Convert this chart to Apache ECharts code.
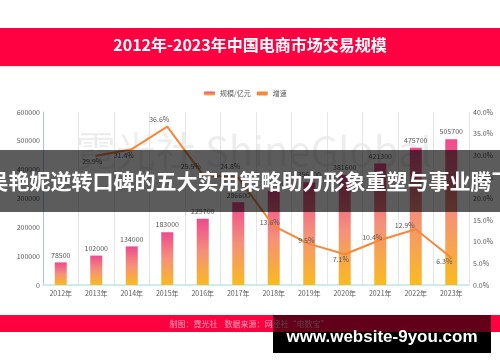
<!DOCTYPE html>
<html><head><meta charset="utf-8">
<script src="https://cdn.jsdelivr.net/npm/echarts@6/dist/echarts.min.js"></script>
<style>html,body{margin:0;padding:0;background:#fff}#c{width:500px;height:362px}</style>
</head><body><div id="c"></div>
<script>
const categories = ['2012年','2013年','2014年','2015年','2016年','2017年','2018年','2019年','2020年','2021年','2022年','2023年'];
const scaleValues = [78500,102000,134000,183000,229700,286600,325500,356300,381600,421300,475700,505700];
const growthValues = [null,29.9,31.4,36.6,25.5,24.8,13.6,9.5,7.1,10.4,12.9,6.3];
const leftTicks = {min:0,max:600000,interval:100000};
const rightTicks = {min:0,max:40,interval:5};
const titleText = '2012年-2023年中国电商市场交易规模';
const legendNames = ['规模/亿元','增速'];
const overlayText = '吴艳妮逆转口碑的五大实用策略助力形象重塑与事业腾飞';
const footerText = '制图：霓光社    数据来源：网经社“电数宝”';
const siteText = 'www.website-9you.com';
const watermarkText = '霓光社 ShineGlobal';

// style: label offsets for growth labels
const lineLabelOffsets = [[0,0],[-4,6],[-8,6],[-8,-7],[-12,-8],[-8,-11],[-4,-4],[-3,-4],[-4,5],[-8,-3],[-11,-4],[-7,4]];

const chart = echarts.init(document.getElementById('c'));
const font = '"Noto Sans CJK SC","Noto Sans",sans-serif';
const barGrad = new echarts.graphic.LinearGradient(0,0,0,1,[
  {offset:0,color:'#ee4b8e'},{offset:0.5,color:'#f5907a'},{offset:1,color:'#f9bb1f'}]);

chart.setOption({
  animation:false,
  textStyle:{fontFamily:font},
  grid:{left:43,right:31,top:112,bottom:77},
  legend:{data:[
      {name:legendNames[0],icon:'roundRect',itemStyle:{color:new echarts.graphic.LinearGradient(0,0,0,1,[{offset:0,color:'#ee4b8e'},{offset:1,color:'#f9bb1f'}])}},
      {name:legendNames[1],icon:'roundRect',itemStyle:{color:'#f5883a'}}],
    left:199,top:85,itemWidth:11,itemHeight:4,itemGap:6,
    textStyle:{fontSize:7,color:'#595959',fontFamily:font}},
  xAxis:{type:'category',data:categories,boundaryGap:true,
    axisLine:{show:true,lineStyle:{color:'#bfe3ea',width:1.5}},
    axisTick:{show:false},
    splitLine:{show:true,lineStyle:{color:'#e6e6e6'}},
    axisLabel:{fontSize:7,color:'#595959',margin:5}},
  yAxis:[
    {type:'value',min:leftTicks.min,max:leftTicks.max,interval:leftTicks.interval,
      axisLine:{show:true,lineStyle:{color:'#a9c6e6'}},axisTick:{show:false},
      splitLine:{show:false},axisLabel:{fontSize:7,color:'#595959',margin:3,formatter:v=>String(v)}},
    {type:'value',min:rightTicks.min,max:rightTicks.max,interval:rightTicks.interval,
      axisLine:{show:false},axisTick:{show:false},splitLine:{show:false},
      axisLabel:{fontSize:7,color:'#595959',margin:4,formatter:v=>v.toFixed(1)+'%'}}
  ],
  series:[
    {name:legendNames[0],type:'bar',data:scaleValues,barWidth:12,z:3,
      itemStyle:{color:barGrad},
      label:{show:true,position:'top',distance:4,fontSize:7,color:'#595959',formatter:p=>String(p.value)}},
    {name:legendNames[1],type:'line',yAxisIndex:1,z:4,
      data:growthValues.map((v,i)=>v==null?'-':{value:v,label:{offset:lineLabelOffsets[i]}}),
      symbol:'circle',symbolSize:2,showSymbol:true,
      lineStyle:{color:'#f5883a',width:2},itemStyle:{color:'#f5883a'},
      label:{show:true,position:'inside',fontSize:7,color:'#595959',formatter:p=>p.value.toFixed(1)+'%'}}
  ],
  graphic:[
    {type:'rect',left:0,top:28,shape:{width:500,height:38},style:{fill:'#ff0040'},z:10},
    {type:'rect',left:0,top:66,shape:{width:500,height:1},style:{fill:'#e4e4e4'},z:10},
    {type:'text',left:'center',top:37,style:{text:titleText,fill:'#fff',font:'bold 16px '+font},z:11},
    {type:'text',left:76,top:131,style:{text:watermarkText,fill:'rgba(0,0,0,0.07)',font:'40px '+font},z:-1,zlevel:0},
    {type:'rect',left:0,top:150,shape:{width:500,height:62},style:{fill:'rgba(0,0,0,0.64)'},z:100},
    {type:'text',x:250,y:181,style:{text:overlayText,fill:'#fff',font:'bold 21px '+font,align:'center',verticalAlign:'middle'},z:101},
    {type:'rect',left:0,top:315,shape:{width:500,height:17},style:{fill:'#ff0040'},z:10},
    {type:'text',x:249,y:323.5,style:{text:footerText,fill:'rgba(255,255,255,0.62)',font:'8px '+font,align:'center',verticalAlign:'middle'},z:11},
    {type:'rect',left:273,top:315,shape:{width:218,height:17},style:{fill:'rgba(0,0,0,0.62)'},z:100},
    {type:'rect',left:273,top:332,shape:{width:218,height:21},style:{fill:'#000'},z:100},
    {type:'text',x:382,y:337,style:{text:siteText,fill:'#fff',font:'bold 17px "Liberation Sans",Arial,sans-serif',align:'center',verticalAlign:'middle'},z:101}
  ]
});
</script></body></html>
